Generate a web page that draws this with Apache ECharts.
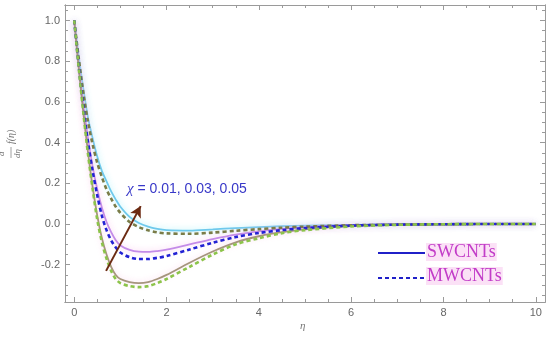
<!DOCTYPE html>
<html><head><meta charset="utf-8">
<script src="https://cdn.jsdelivr.net/npm/echarts@6/dist/echarts.min.js"></script>
<style>html,body{margin:0;padding:0;background:#fff}#c{width:550px;height:338px}</style>
</head><body><div id="c"></div>
<script>
const eta = [0, 0.1, 0.2, 0.3, 0.4, 0.5, 0.6, 0.7, 0.8, 0.9, 1.0, 1.2, 1.4, 1.6, 1.8, 2.0, 2.5, 3.0, 3.5, 4.0, 4.5, 5, 6, 7, 8, 9, 10];
// SWCNTs (solid)
const sw_chi005 = [1, 0.82, 0.66, 0.52, 0.42, 0.33, 0.26, 0.21, 0.16, 0.12, 0.085, 0.035, 0.005, -0.013, -0.024, -0.03, -0.032, -0.026, -0.02, -0.015, -0.011, -0.008, -0.004, -0.002, -0.001, 0, 0];
const sw_chi003 = [1, 0.77, 0.58, 0.42, 0.28, 0.17, 0.08, 0.01, -0.04, -0.08, -0.105, -0.127, -0.136, -0.137, -0.133, -0.126, -0.1, -0.074, -0.052, -0.036, -0.024, -0.016, -0.006, -0.002, -0.001, 0, 0];
const sw_chi001 = [1, 0.76, 0.54, 0.35, 0.18, 0.04, -0.07, -0.15, -0.21, -0.25, -0.27, -0.285, -0.29, -0.285, -0.27, -0.25, -0.19, -0.135, -0.09, -0.06, -0.04, -0.026, -0.01, -0.003, -0.001, 0, 0];
// MWCNTs (dashed)
const mw_chi005 = [1, 0.81, 0.64, 0.50, 0.39, 0.30, 0.23, 0.17, 0.125, 0.085, 0.055, 0.01, -0.015, -0.031, -0.041, -0.046, -0.048, -0.042, -0.033, -0.025, -0.018, -0.013, -0.006, -0.003, -0.001, 0, 0];
const mw_chi003 = [1, 0.77, 0.57, 0.40, 0.26, 0.14, 0.04, -0.03, -0.08, -0.115, -0.14, -0.163, -0.172, -0.172, -0.166, -0.157, -0.125, -0.092, -0.064, -0.044, -0.03, -0.02, -0.008, -0.003, -0.001, 0, 0];
const mw_chi001 = [1, 0.76, 0.54, 0.34, 0.17, 0.02, -0.09, -0.17, -0.23, -0.27, -0.29, -0.305, -0.31, -0.305, -0.29, -0.27, -0.21, -0.15, -0.10, -0.07, -0.045, -0.03, -0.012, -0.004, -0.001, 0, 0];

const xMajor = [0, 2, 4, 6, 8, 10];
const xMinor = [0.5, 1, 1.5, 2.5, 3, 3.5, 4.5, 5, 5.5, 6.5, 7, 7.5, 8.5, 9, 9.5];
const yMajor = [-0.2, 0.0, 0.2, 0.4, 0.6, 0.8, 1.0];
const yMinor = [-0.35, -0.3, -0.25, -0.15, -0.1, -0.05, 0.05, 0.1, 0.15, 0.25, 0.3, 0.35, 0.45, 0.5, 0.55, 0.65, 0.7, 0.75, 0.85, 0.9, 0.95, 1.05];
const arrowFrom = [0.69, -0.23];
const arrowTo = [1.44, 0.088];
const annotation = 'χ = 0.01, 0.03, 0.05';
const legendNames = ['SWCNTs', 'MWCNTs'];

const pts = ys => eta.map((x, i) => [x, ys[i]]);
const chart = echarts.init(document.getElementById('c'), null, {renderer: 'canvas'});
const frame = '#9a9a9a';
const X0 = -0.2, X1 = 10.2, Y0 = -0.383, Y1 = 1.076;

function xa(pos, vals, len, labels) {
  return {type: 'value', position: pos, min: X0, max: X1, gridIndex: 0,
    axisLine: {show: true, onZero: false, lineStyle: {color: frame, width: 1}},
    axisTick: {show: true, inside: true, length: len, customValues: vals, lineStyle: {color: frame}},
    axisLabel: {show: labels, customValues: vals, color: '#666', fontSize: 11, margin: 5, fontFamily: 'Liberation Sans'},
    splitLine: {show: false}};
}
function ya(pos, vals, len, labels) {
  return {type: 'value', position: pos, min: Y0, max: Y1, gridIndex: 0,
    axisLine: {show: true, onZero: false, lineStyle: {color: frame, width: 1}},
    axisTick: {show: true, inside: true, length: len, customValues: vals, lineStyle: {color: frame}},
    axisLabel: {show: labels, customValues: vals, color: '#666', fontSize: 11, margin: 5, fontFamily: 'Liberation Sans',
      formatter: v => v.toFixed(1)},
    splitLine: {show: false}};
}

function line(name, data, color, dashed, shadow) {
  return {type: 'line', name, data: pts(data), xAxisIndex: 0, yAxisIndex: 0, smooth: 0.3, symbol: 'none',
    lineStyle: dashed ? {color, width: 2.6, type: [4, 3], shadowColor: shadow, shadowBlur: shadow ? 5 : 0}
                      : {color, width: 1.8, shadowColor: shadow, shadowBlur: shadow ? 6 : 0},
    silent: true, animation: false};
}

const series = [
  line('SWCNTs χ=0.05', sw_chi005, '#6ec9ec', false, 'rgba(150,240,250,0.9)'),
  line('SWCNTs χ=0.03', sw_chi003, '#c48ce8', false, 'rgba(250,190,235,0.9)'),
  line('SWCNTs χ=0.01', sw_chi001, '#a6957e', false, 'rgba(250,200,230,0.8)'),
  line('MWCNTs χ=0.05', mw_chi005, '#7a7c48', true, null),
  line('MWCNTs χ=0.03', mw_chi003, '#2222d4', true, null),
  line('MWCNTs χ=0.01', mw_chi001, '#8cc44a', true, null),
  {type: 'line', data: [], xAxisIndex: 0, yAxisIndex: 0, silent: true, animation: false,
    markLine: {silent: true, animation: false, symbol: ['none', 'arrow'], symbolSize: [9, 11],
      label: {show: false},
      lineStyle: {color: '#6b2a12', width: 2, type: 'solid'},
      data: [[{coord: arrowFrom}, {coord: arrowTo}]]}}
];

chart.setOption({
  animation: false,
  grid: {left: 65, right: 5, top: 5, bottom: 36, containLabel: false},
  xAxis: [xa('bottom', xMajor, 5, true), xa('bottom', xMinor, 3, false), xa('top', xMajor, 5, false), xa('top', xMinor, 3, false)],
  yAxis: [ya('left', yMajor, 5, true), ya('left', yMinor, 3, false), ya('right', yMajor, 5, false), ya('right', yMinor, 3, false)],
  series,
  graphic: [
    {type: 'text', left: 300, top: 321, style: {text: 'η', fill: '#777', font: 'italic 11px "Liberation Serif"'}},
    {type: 'group', x: 12, y: 158, rotation: Math.PI / 2, children: [
      {type: 'text', x: 2, y: -15, style: {text: 'd', fill: '#777', font: 'italic 9px "Liberation Serif"'}},
      {type: 'line', shape: {x1: 0, y1: -1, x2: 11, y2: -1}, style: {stroke: '#888', lineWidth: 0.8}},
      {type: 'text', x: 0, y: 1, style: {text: 'dη', fill: '#777', font: 'italic 9px "Liberation Serif"'}},
      {type: 'text', x: 14, y: -6, style: {text: 'f(η)', fill: '#777', font: 'italic 10px "Liberation Serif"'}}
    ]},
    {type: 'text', left: 127, top: 182, style: {
      text: '{i|χ} = 0.01, 0.03, 0.05', fill: '#3838c8', font: '14px "Liberation Sans"',
      rich: {i: {fontStyle: 'italic', fontSize: 15, fill: '#3838c8', fontFamily: 'Liberation Serif'}}}},
    {type: 'line', shape: {x1: 378, y1: 253, x2: 425, y2: 253}, style: {stroke: '#2020c8', lineWidth: 2}},
    {type: 'line', shape: {x1: 378, y1: 278, x2: 425, y2: 278}, style: {stroke: '#2020c8', lineWidth: 2, lineDash: [4, 3]}},
    {type: 'text', left: 426, top: 243, style: {text: legendNames[0], fill: '#c23cc8', font: '18px "Liberation Serif"', backgroundColor: '#fbe1f6', padding: [0, 1]}},
    {type: 'text', left: 426, top: 267, style: {text: legendNames[1], fill: '#c23cc8', font: '18px "Liberation Serif"', backgroundColor: '#fbe1f6', padding: [0, 1]}}
  ]
});
</script></body></html>
